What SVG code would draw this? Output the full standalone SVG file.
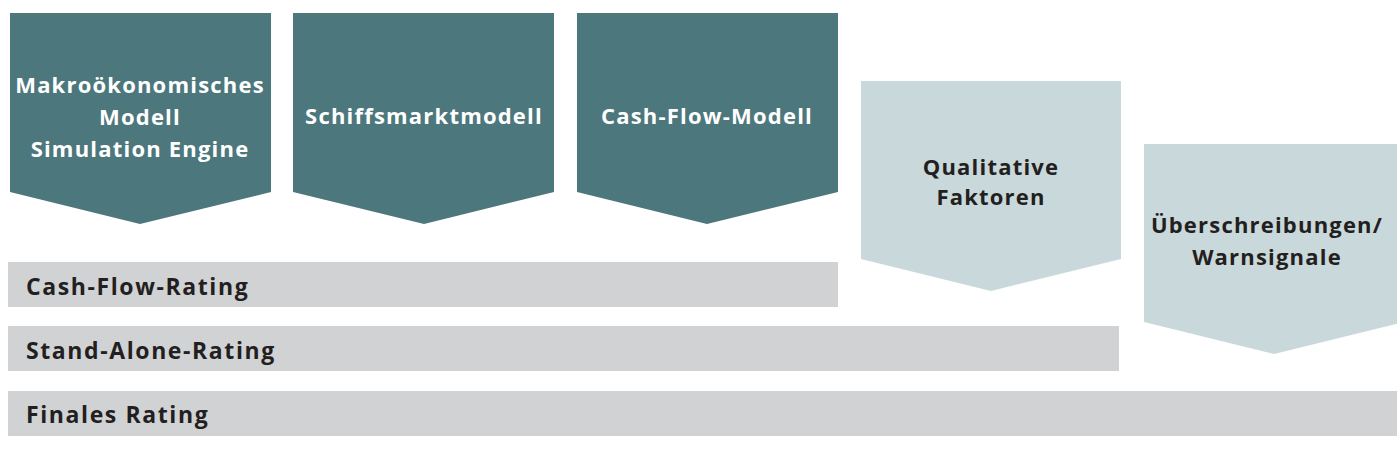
<svg xmlns="http://www.w3.org/2000/svg" width="1397" height="466" viewBox="0 0 1397 466">
<style>
.dark{fill:#4c777c}
.light{fill:#c9d8da}
.bar{fill:#d1d2d4}
text{font-family:"Open Sans","Liberation Sans",sans-serif;font-weight:bold;font-size:22px;letter-spacing:1.2px}
.w{fill:#ffffff;text-anchor:middle}
.k{fill:#231f20;text-anchor:middle}
.b{fill:#231f20;font-size:23px;letter-spacing:1.6px}
</style>
<rect width="1397" height="466" fill="#ffffff"/>
<g id="node-makro">
<polygon class="dark" points="10,13 271,13 271,192 140,224 10,192"/>
<text class="w" x="140" y="93">Makroökonomisches</text>
<text class="w" x="140" y="125">Modell</text>
<text class="w" x="140" y="157">Simulation Engine</text>
</g>
<g id="node-schiff">
<polygon class="dark" points="293,13 554,13 554,192 424,224 293,192"/>
<text class="w" x="424" y="124">Schiffsmarktmodell</text>
</g>
<g id="node-cashflow-modell">
<polygon class="dark" points="577,13 838,13 838,192 707,224 577,192"/>
<text class="w" x="707" y="124">Cash-Flow-Modell</text>
</g>
<g id="node-qualitative">
<polygon class="light" points="861,81 1121,81 1121,259 991,291 861,259"/>
<text class="k" x="991" y="175">Qualitative</text>
<text class="k" x="991" y="205">Faktoren</text>
</g>
<g id="node-ueberschreibungen">
<polygon class="light" points="1144,144 1404,144 1404,322 1274,354 1144,322"/>
<text class="k" x="1267" y="233">Überschreibungen/</text>
<text class="k" x="1267" y="265">Warnsignale</text>
</g>
<g id="node-cf-rating">
<rect class="bar" x="8" y="262" width="830" height="45"/>
<text class="b" x="26" y="295">Cash-Flow-Rating</text>
</g>
<g id="node-sa-rating">
<rect class="bar" x="8" y="326" width="1111" height="45"/>
<text class="b" x="26" y="359">Stand-Alone-Rating</text>
</g>
<g id="node-final-rating">
<rect class="bar" x="8" y="391" width="1389" height="45"/>
<text class="b" x="26" y="423">Finales Rating</text>
</g>
<g id="connectors"></g>
</svg>
